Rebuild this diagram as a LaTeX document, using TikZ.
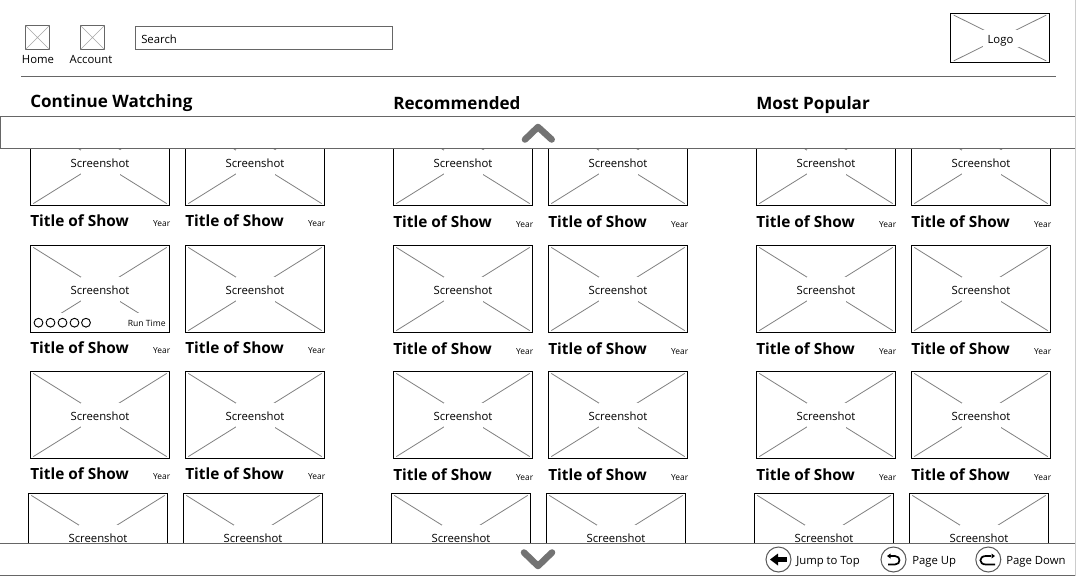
\documentclass[tikz,border=0pt]{standalone}
\usepackage{fontspec}
\setmainfont{Open Sans}
\tikzset{
  cardbox/.style={draw=black,line width=0.75pt,fill=white,minimum width=104.6pt,minimum height=65.25pt,inner sep=0pt,outer sep=0pt},
  crossline/.style={draw=black!50,line width=0.6pt,shorten >=2.7pt,shorten <=2.7pt},
  cardgap/.style={fill=white,minimum width=29.25pt,minimum height=18.75pt,inner sep=0pt},
  cardlabel/.style={inner sep=0pt,font=\fontsize{8.5}{10}\selectfont},
  framebar/.style={draw=black!60,line width=0.75pt,fill=white,inner sep=0pt,outer sep=0pt},
  iconbox/.style={draw=black!60,line width=0.75pt,minimum size=18pt,inner sep=0pt,outer sep=0pt},
  smalltext/.style={anchor=base,inner sep=0pt,font=\fontsize{8.5}{10}\selectfont},
  heading/.style={anchor=base west,inner sep=0pt,font=\bfseries\fontsize{12.8}{15}\selectfont},
  showtitle/.style={anchor=base west,inner sep=0pt,font=\bfseries\fontsize{11.55}{13}\selectfont},
  yeartext/.style={anchor=base east,inner sep=0pt,font=\fontsize{6.3}{8}\selectfont},
  chevron/.style={draw=black!55,line width=4.9pt,line cap=round,line join=round},
  footcircle/.style={circle,draw=black!65,line width=0.75pt,minimum size=18.75pt,inner sep=0pt,outer sep=0pt},
  dotcircle/.style={circle,draw=black,line width=0.7pt,minimum size=6.6pt,inner sep=0pt,outer sep=0pt},
}
\newcommand{\card}[4]{
  \node[cardbox] (#1) at (#2,#3) {};
  \draw[crossline] (#1.north west) -- (#1.south east);
  \draw[crossline] (#1.north east) -- (#1.south west);
  \node[cardgap] (#1-gap) at (#2,#3) {};
  \node[cardlabel] (#1-label) at (#2,#3+1) {#4};
}
\begin{document}
\begin{tikzpicture}[x=0.75pt,y=-0.75pt]
\useasboundingbox (0,0) rectangle (1076,576);
\fill[white] (0,0) rectangle (1076,576);

\node[iconbox] (home) at (37.5,37.5) {};
\draw[black!35,line width=0.5pt] (home.north west) -- (home.south east) (home.north east) -- (home.south west);
\node[iconbox] (account) at (92.5,37.5) {};
\draw[black!35,line width=0.5pt] (account.north west) -- (account.south east) (account.north east) -- (account.south west);
\node[smalltext] (home-label) at (38,63) {Home};
\node[smalltext] (account-label) at (91,63) {Account};
\node[framebar,minimum width=192.75pt,minimum height=17.25pt] (search) at (264,38) {};
\node[smalltext,anchor=base west] (search-label) at (141,43) {Search};
\node[draw=black,line width=0.75pt,minimum width=74.25pt,minimum height=36.75pt,inner sep=0pt,outer sep=0pt] (logo) at (1000,38) {};
\draw[crossline] (logo.north west) -- (logo.south east);
\draw[crossline] (logo.north east) -- (logo.south west);
\node[cardgap,minimum width=27pt,minimum height=12.75pt] (logo-gap) at (1000.5,38) {};
\node[smalltext] (logo-label) at (1000.5,43.5) {Logo};
\coordinate (rule-start) at (21,76.5);
\coordinate (rule-end) at (1056,76.5);
\draw[black!60,line width=0.75pt] (rule-start) -- (rule-end);

\node[heading] (watching) at (30,107) {Continue Watching};
\node[heading] (recommended) at (393,109) {Recommended};
\node[heading] (popular) at (756,109) {Most Popular};

\foreach \cx/\cname/\dy in {100/a/0,255/b/0,463/c/1,618/d/1,826/e/1,981/f/1}{
  \card{\cname1}{\cx}{162}{Screenshot}
  \ifx\cname a
    \card{\cname2}{\cx}{289}{Video}
  \else
    \card{\cname2}{\cx}{289}{Screenshot}
  \fi
  \card{\cname3}{\cx}{415}{Screenshot}
  \card{\cname4}{\cx-2}{537}{Screenshot}
  \foreach \ty in {226,353,479}{
    \node[showtitle] (\cname-title-\ty) at (\cx-70,\ty+\dy) {Title of Show};
    \node[yeartext] (\cname-year-\ty) at (\cx+70.5,\ty+\dy) {Year};
  }
}

\fill[white] (32,313) rectangle (168,331);
\foreach \i/\px in {1/38.5,2/50.5,3/62.5,4/74.5,5/86}{
  \node[dotcircle] (dot\i) at (\px,322.7) {};
}
\node[yeartext,font=\fontsize{6.45}{8}\selectfont] (runtime) at (166,326) {Run Time};

\fill[white] (0,575) rectangle (1076,590);
\node[framebar,minimum width=807pt,minimum height=24pt] (topbar) at (538,132.5) {};
\node[framebar,minimum width=806.5pt,minimum height=24pt] (bottombar) at (537.5,559.3) {};
\draw[black!20,line width=0.75pt] (1075.5,0) -- (1075.5,576);

\coordinate (up-left) at (525,139.5);
\coordinate (up-tip) at (538,127);
\coordinate (up-right) at (551.7,139.5);
\draw[chevron] (up-left) -- (up-tip) -- (up-right);
\coordinate (down-left) at (524,552.5);
\coordinate (down-tip) at (538,566);
\coordinate (down-right) at (552,552.5);
\draw[chevron] (down-left) -- (down-tip) -- (down-right);

\node[footcircle] (jump) at (778.5,559.5) {};
\draw[black,line width=3.4pt] (776,559.5) -- (787,559.5);
\fill[black] (770,559.5) -- (778,553.5) -- (778,565.5) -- cycle;
\node[smalltext,anchor=base west] (jump-label) at (796,564) {Jump to Top};
\node[footcircle] (pageup) at (893.5,559.5) {};
\draw[black,line width=1.3pt] (889,556) -- (895,556) .. controls (901,556) and (901,564.5) .. (895,564.5) -- (888,564.5);
\fill[black] (887,556) -- (890.5,553.5) -- (890.5,558.5) -- cycle;
\node[smalltext,anchor=base west] (pageup-label) at (912,564) {Page Up};
\node[footcircle] (pagedown) at (988.3,559.5) {};
\draw[black,line width=1.3pt] (991,556) -- (986,556) .. controls (978.5,556) and (978.5,564.5) .. (986,564.5) -- (995,564.5);
\fill[black] (995,556) -- (991.5,553.5) -- (991.5,558.5) -- cycle;
\node[smalltext,anchor=base west] (pagedown-label) at (1006,564) {Page Down};
\end{tikzpicture}
\end{document}
